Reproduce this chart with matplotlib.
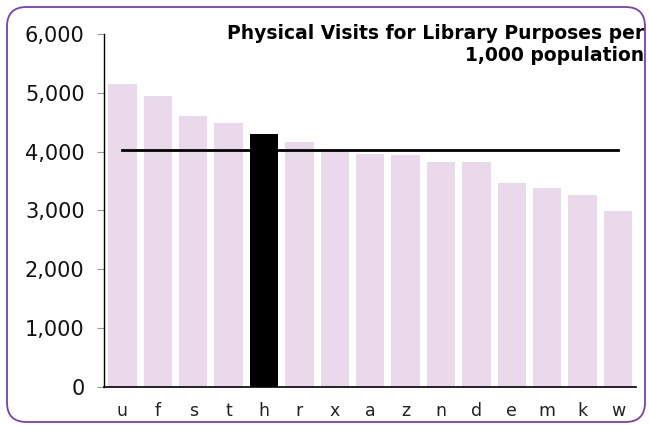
import matplotlib
matplotlib.use("Agg")
import matplotlib.pyplot as plt
from matplotlib.patches import FancyBboxPatch
from matplotlib.ticker import FuncFormatter

categories = ["u", "f", "s", "t", "h", "r", "x", "a", "z", "n", "d", "e", "m", "k", "w"]
values = [5150, 4940, 4600, 4480, 4300, 4170, 4020, 3955, 3937, 3818, 3818, 3472, 3375, 3267, 2990]
highlight = "h"
average = 4020

fig = plt.figure(figsize=(6.5, 4.25), dpi=100)
ax = fig.add_axes([0.16, 0.09, 0.818, 0.83])

colors = ["#000000" if c == highlight else "#EAD9EB" for c in categories]
x = range(len(categories))
ax.bar(x, values, width=0.8, color=colors, zorder=2)
ax.plot([0, len(categories) - 1], [average, average], color="black", lw=2, zorder=3)

ax.set_xlim(-0.52, len(categories) - 0.5)
ax.set_ylim(0, 6000)
ax.set_yticks(range(0, 6001, 1000))
ax.yaxis.set_major_formatter(FuncFormatter(lambda v, p: f"{int(v):,}"))
ax.set_xticks(list(x))
ax.set_xticklabels(categories)
ax.tick_params(axis="x", length=0, labelsize=12.5, pad=11, colors="#222222")
ax.tick_params(axis="y", length=5, color="#999999", labelsize=15, pad=9, labelcolor="#111111")
for s in ["top", "right"]:
    ax.spines[s].set_visible(False)
ax.spines["left"].set_color("black")
ax.spines["bottom"].set_color("black")
ax.spines["left"].set_linewidth(1)
ax.spines["bottom"].set_linewidth(1.2)

fig.text(0.991, 1 - 24 / 425, "Physical Visits for Library Purposes per\n1,000 population",
         ha="right", va="top", fontsize=13.5, fontweight="bold", linespacing=1.2)

frame = FancyBboxPatch((7 / 650, 3 / 425), 638 / 650, 415 / 425,
                       boxstyle="round,pad=0,rounding_size=0.03",
                       transform=fig.transFigure, fill=False,
                       edgecolor="#7A3FB5", linewidth=1.3, mutation_aspect=650 / 425)
fig.patches.append(frame)

fig.savefig("out.png", dpi=100)
